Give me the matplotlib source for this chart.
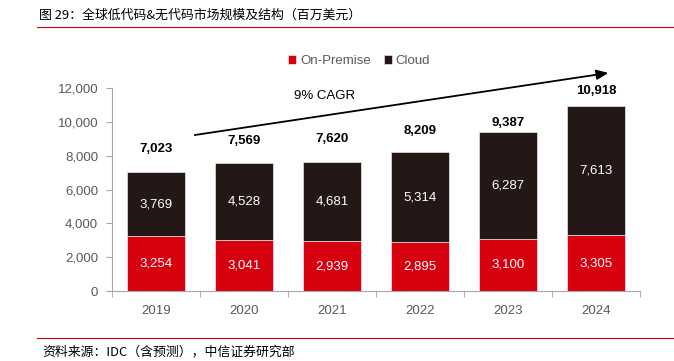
import matplotlib
matplotlib.use("Agg")
import matplotlib.pyplot as plt
from matplotlib.lines import Line2D
import numpy as np

plt.rcParams['font.family'] = ['Liberation Sans', 'Noto Sans CJK SC', 'DejaVu Sans']

years = ['2019', '2020', '2021', '2022', '2023', '2024']
on_premise = [3254, 3041, 2939, 2895, 3100, 3305]
cloud = [3769, 4528, 4681, 5314, 6287, 7613]
totals = [7023, 7569, 7620, 8209, 9387, 10918]
yticks = [0, 2000, 4000, 6000, 8000, 10000, 12000]
title = '图 29：全球低代码&无代码市场规模及结构（百万美元）'
source = '资料来源：IDC（含预测），中信证券研究部'
cagr_label = '9% CAGR'

RED = '#D7000F'
DARK = '#231815'
GRAY = '#595959'
AXC = '#A6A6A6'

fig = plt.figure(figsize=(6.74, 3.61), dpi=100)
ax = fig.add_axes([112/674, 1-291/361, (640-112)/674, (291-88)/361])

x = np.arange(len(years))
w = 0.66
ax.bar(x, on_premise, w, color=RED, edgecolor='white', linewidth=0.4, label='On-Premise', zorder=2)
ax.bar(x, cloud, w, bottom=on_premise, color=DARK, edgecolor='white', linewidth=0.4, label='Cloud', zorder=2)

for i in range(len(years)):
    ax.text(x[i], on_premise[i]/2, f'{on_premise[i]:,}', ha='center', va='center', color='white', fontsize=9.5)
    ax.text(x[i], on_premise[i] + cloud[i]/2, f'{cloud[i]:,}', ha='center', va='center', color='white', fontsize=9.5)

label_off = [17, 16, 16.5, 15, 6.5, 11]  # points above bar top
for i in range(len(years)):
    ax.annotate(f'{totals[i]:,}', (x[i], totals[i]), xytext=(0, label_off[i]), textcoords='offset points',
                ha='center', va='center', fontsize=9.5, fontweight='bold', color='black')

ax.set_xlim(-0.5, len(years)-0.5)
ax.set_ylim(0, 12000)
ax.set_yticks(yticks)
ax.set_yticklabels([f'{v:,}' for v in yticks], color=GRAY, fontsize=9.5)
ax.set_xticks(x)
ax.set_xticklabels(years, color=GRAY, fontsize=9.5)
ax.set_xticks(np.arange(-0.5, len(years)), minor=True)
ax.tick_params(axis='x', which='major', length=0, pad=10)
ax.tick_params(axis='x', which='minor', length=4, color=AXC, direction='out')
ax.tick_params(axis='y', length=4, color=AXC, direction='out', pad=6)
for s in ['top', 'right']:
    ax.spines[s].set_visible(False)
for s in ['left', 'bottom']:
    ax.spines[s].set_color(AXC)
    ax.spines[s].set_linewidth(0.8)

# CAGR arrow
ax.annotate('', xy=(5.14, 12890), xytext=(0.44, 9220), xycoords='data', annotation_clip=False,
            arrowprops=dict(arrowstyle='-|>,head_length=0.7,head_width=0.3', color='black', lw=1.3,
                            shrinkA=0, shrinkB=0))
ax.text(1.92, 11530, cagr_label, ha='center', va='center', fontsize=9.5, color='black')

leg = ax.legend(loc='upper center', bbox_to_anchor=(0.468, 1.22), ncol=2, frameon=False, fontsize=9.5,
                handlelength=0.6, handleheight=0.6, handletextpad=0.3, columnspacing=1.0)
for t in leg.get_texts():
    t.set_color(GRAY)

# title and footer
fig.text(39/674, 1-15/361, title, fontsize=9.3, va='center', ha='left', color='black',
         family=['Noto Sans CJK SC', 'DejaVu Sans'])
fig.add_artist(Line2D([37/674, 1.0], [1-27/361, 1-27/361], color=RED, lw=0.8))
fig.add_artist(Line2D([37/674, 1.0], [1-338/361, 1-338/361], color=RED, lw=0.8))
fig.text(42/674, 1-352/361, source, fontsize=9.3, va='center', ha='left', color='black',
         family=['Noto Sans CJK SC', 'DejaVu Sans'])

fig.savefig('out.png', dpi=100)
